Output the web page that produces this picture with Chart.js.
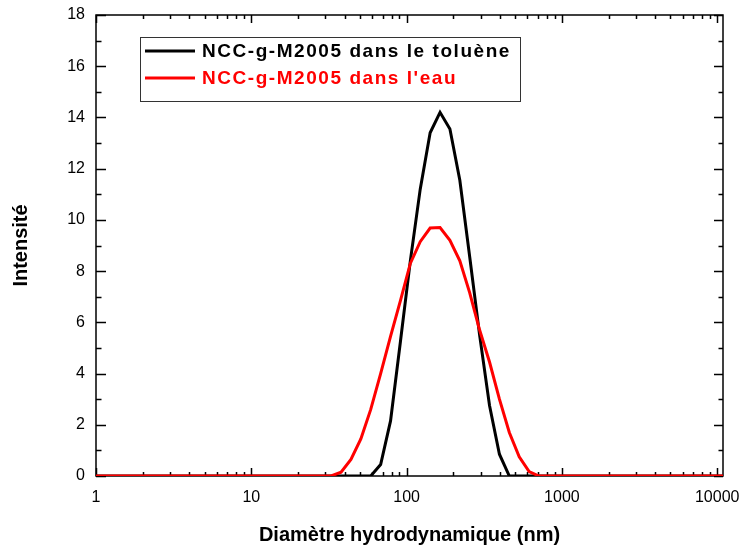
<!DOCTYPE html>
<html>
<head>
<meta charset="utf-8">
<script src="https://cdn.jsdelivr.net/npm/chart.js@4/dist/chart.umd.min.js"></script>
<style>
  html, body { margin: 0; padding: 0; background: #fff; }
  #wrap { width: 743px; height: 549px; }
</style>
</head>
<body>
<div id="wrap"><canvas id="chart"></canvas></div>
<script>
// hydrodynamic diameter bins (nm) and intensities
const sizes = [1, 28.21, 32.67, 37.84, 43.82, 50.75, 58.77, 68.06, 78.82, 91.28, 105.7, 122.4, 141.8,
    164.2, 190.1, 220.2, 255.0, 295.3, 342.0, 396.1, 458.7, 531.2, 615.1, 712.4, 825.0, 10900];
const toluene = [0, 0, 0, 0, 0, 0, 0, 0.45, 2.15, 5.25, 8.4, 11.2, 13.4,
    14.2, 13.55, 11.55, 8.55, 5.5, 2.75, 0.85, 0, 0, 0, 0, 0, 0];
const eau = [0, 0, 0, 0.15, 0.65, 1.45, 2.6, 4.0, 5.45, 6.85, 8.3, 9.15, 9.68,
    9.7, 9.2, 8.4, 7.15, 5.7, 4.45, 3.0, 1.7, 0.75, 0.17, 0, 0, 0];
const labels = ['NCC-g-M2005 dans le toluène', "NCC-g-M2005 dans l'eau"];
const xTicks = [1, 10, 100, 1000, 10000];
const xMin = 1, xMax = 10900;
const yMax = 18;

const FONT = '"Liberation Sans", Arial, sans-serif';

function toPoints(vals) {
    return sizes.map((s, i) => ({ x: s, y: vals[i] }));
}

// frame + inward ticks on all four sides (Origin style)
const frameTicks = {
    id: 'frameTicks',
    beforeDatasetsDraw(chart) {
        const { ctx, chartArea: a, scales: { x, y } } = chart;
        ctx.save();
        ctx.strokeStyle = '#000';
        ctx.lineWidth = 1.5;
        ctx.strokeRect(a.left, a.top, a.right - a.left, a.bottom - a.top);
        ctx.beginPath();
        for (let v = 0; v <= yMax; v++) {
            const py = Math.round(y.getPixelForValue(v)) + 0.5;
            const major = v % 2 === 0;
            ctx.moveTo(a.left, py); ctx.lineTo(a.left + (major ? 10 : 5.5), py);
            ctx.moveTo(a.right, py); ctx.lineTo(a.right - (major ? 9 : 4.5), py);
        }
        for (let d = 1; d <= 10000; d *= 10) {
            for (let m = 1; m <= 9; m++) {
                const v = d * m;
                if (v > xMax) break;
                const px = Math.round(x.getPixelForValue(v)) + 0.5;
                const len = m === 1 ? 8 : 4;
                ctx.moveTo(px, a.bottom); ctx.lineTo(px, a.bottom - len);
                ctx.moveTo(px, a.top); ctx.lineTo(px, a.top + len);
            }
        }
        ctx.stroke();
        ctx.restore();
    }
};

// boxed legend inside the plot
const boxLegend = {
    id: 'boxLegend',
    afterDatasetsDraw(chart) {
        const ctx = chart.ctx;
        ctx.save();
        ctx.strokeStyle = '#333';
        ctx.lineWidth = 1;
        ctx.fillStyle = '#fff';
        ctx.fillRect(140.5, 37.5, 380, 64);
        ctx.strokeRect(140.5, 37.5, 380, 64);
        ctx.font = 'bold 19px ' + FONT;
        ctx.textBaseline = 'middle';
        if ('letterSpacing' in ctx) ctx.letterSpacing = '1.55px';
        chart.data.datasets.forEach((ds, i) => {
            const yy = 51 + i * 27;
            ctx.strokeStyle = ds.borderColor;
            ctx.lineWidth = 3;
            ctx.beginPath();
            ctx.moveTo(145, yy); ctx.lineTo(195, yy);
            ctx.stroke();
            ctx.fillStyle = ds.borderColor;
            ctx.fillText(ds.label, 202, yy + 1);
        });
        ctx.restore();
    }
};

new Chart(document.getElementById('chart'), {
    type: 'line',
    data: {
        datasets: [
            { label: labels[0], data: toPoints(toluene), borderColor: '#000000', borderWidth: 3, pointRadius: 0, tension: 0, order: 1 },
            { label: labels[1], data: toPoints(eau), borderColor: '#ff0000', borderWidth: 3, pointRadius: 0, tension: 0, order: 0 }
        ]
    },
    options: {
        responsive: true,
        maintainAspectRatio: false,
        animation: false,
        layout: { padding: { top: 15, right: 20, left: 0, bottom: 0 } },
        plugins: { legend: { display: false }, tooltip: { enabled: false } },
        scales: {
            x: {
                type: 'logarithmic',
                min: xMin,
                max: xMax,
                grid: { display: false, drawTicks: false },
                border: { display: false },
                afterBuildTicks: s => { s.ticks = xTicks.map(v => ({ value: v })); },
                afterFit: s => { s.height = 73; s.paddingLeft = 0; s.paddingRight = 0; },
                ticks: {
                    autoSkip: false,
                    maxRotation: 0,
                    padding: 12,
                    color: '#000',
                    font: { family: FONT, size: 16 },
                    callback: v => String(v)
                },
                title: {
                    display: true,
                    text: 'Diamètre hydrodynamique (nm)',
                    color: '#000',
                    font: { family: FONT, size: 20, weight: 'bold' },
                    padding: { top: 0, bottom: 2 }
                }
            },
            y: {
                min: 0,
                max: yMax,
                grid: { display: false, drawTicks: false },
                border: { display: false },
                afterFit: s => { s.width = 96; s.paddingTop = 0; s.paddingBottom = 0; },
                ticks: {
                    stepSize: 2,
                    padding: 11,
                    color: '#000',
                    font: { family: FONT, size: 16 }
                },
                title: {
                    display: true,
                    text: 'Intensité',
                    color: '#000',
                    font: { family: FONT, size: 20, weight: 'bold' },
                    padding: { top: 9, bottom: 0 }
                }
            }
        }
    },
    plugins: [frameTicks, boxLegend]
});
</script>
</body>
</html>
